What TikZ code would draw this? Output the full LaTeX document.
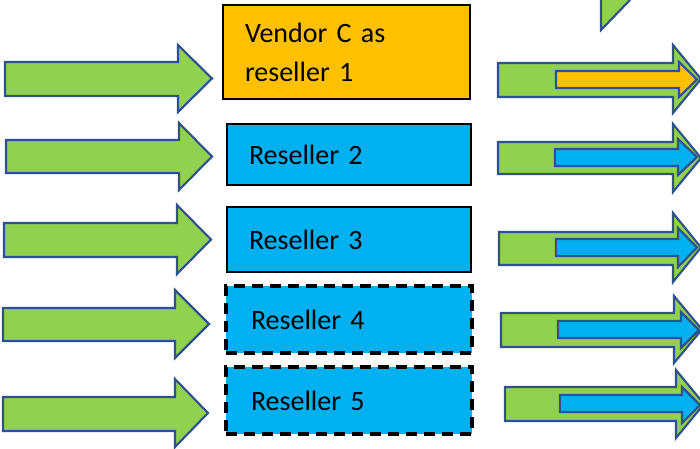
\documentclass[tikz,border=0pt]{standalone}
\usepackage{fontspec}
\setmainfont{Carlito}
\definecolor{agreen}{HTML}{92D050}
\definecolor{aline}{HTML}{2F528F}
\definecolor{vorange}{HTML}{FFC000}
\definecolor{rblue}{HTML}{00B0F0}
% #1 style, #2 left x, #3 head base x, #4 tip x, #5 body top, #6 body bottom, #7 head top, #8 head bottom
\newcommand{\blockarrow}[8]{%
  \draw[#1] (#2,#5) -- (#3,#5) -- (#3,#7) -- (#4,{(#7+#8)/2}) -- (#3,#8) -- (#3,#6) -- (#2,#6) -- cycle;}
\begin{document}
\begin{tikzpicture}[x=0.75pt,y=-0.75pt,
  greenarrow/.style={fill=agreen,draw=aline,line width=1.6pt,line join=miter},
  innerarrow/.style={draw=aline,line width=1.6pt,line join=miter},
  box/.style={rectangle,draw=black,line width=1.2pt,inner xsep=16.5pt,inner ysep=0pt,align=left,
    font=\fontsize{21}{29.25}\selectfont},
  dashbox/.style={box,line width=3.6pt,dash pattern=on 8.5pt off 5pt,inner xsep=18.75pt}]
\useasboundingbox (0,0) rectangle (700,449);
\clip (0,0) rectangle (700,449);

% left arrows
\blockarrow{greenarrow}{5}{178}{212}{62}{96}{45}{112}
\blockarrow{greenarrow}{6}{179}{212}{140}{173}{123}{190}
\blockarrow{greenarrow}{4}{177}{211}{223}{257}{205}{274}
\blockarrow{greenarrow}{3}{175}{209}{308}{341}{290}{358}
\blockarrow{greenarrow}{3}{175}{208}{397}{431}{379}{447}

% boxes
\node[box,fill=vorange,minimum width=185.25pt,minimum height=70.5pt,text width=152.25pt] (b1) at (346.5,52) {Vendor C as\\reseller 1};
\node[box,fill=rblue,minimum width=183pt,minimum height=45.75pt,text width=150pt] (b2) at (349,154.5) {Reseller 2};
\node[box,fill=rblue,minimum width=183pt,minimum height=48.75pt,text width=150pt] (b3) at (349,239.5) {Reseller 3};
\node[dashbox,fill=rblue,minimum width=184.5pt,minimum height=50.25pt,text width=147pt] (b4) at (349,319.5) {Reseller 4};
\node[dashbox,fill=rblue,minimum width=184.5pt,minimum height=50.25pt,text width=147pt] (b5) at (349,400.5) {Reseller 5};

% partial arrow head at top right
\fill[agreen] (601,0) -- (630,0) -- (601,30) -- cycle;
\draw[aline,line width=1.6pt] (601,0) -- (601,30) -- (630,0);

% right double arrows
\blockarrow{greenarrow}{498}{673}{701}{63}{97}{45}{113}
\blockarrow{innerarrow,fill=vorange}{556}{679}{697}{71}{88}{62}{97}
\blockarrow{greenarrow}{498}{673}{701}{142}{174}{124}{192}
\blockarrow{innerarrow,fill=rblue}{555}{678}{697}{149}{166}{139}{175}
\blockarrow{greenarrow}{499}{673}{701}{232}{265}{213}{282}
\blockarrow{innerarrow,fill=rblue}{556}{678}{697}{239}{256}{228}{267}
\blockarrow{greenarrow}{501}{674}{702}{313}{347}{296}{363}
\blockarrow{innerarrow,fill=rblue}{558}{681}{699}{321}{338}{312}{348}
\blockarrow{greenarrow}{505}{676}{704}{387}{421}{370}{438}
\blockarrow{innerarrow,fill=rblue}{560}{682}{700}{395}{412}{387}{423}
\end{tikzpicture}
\end{document}
